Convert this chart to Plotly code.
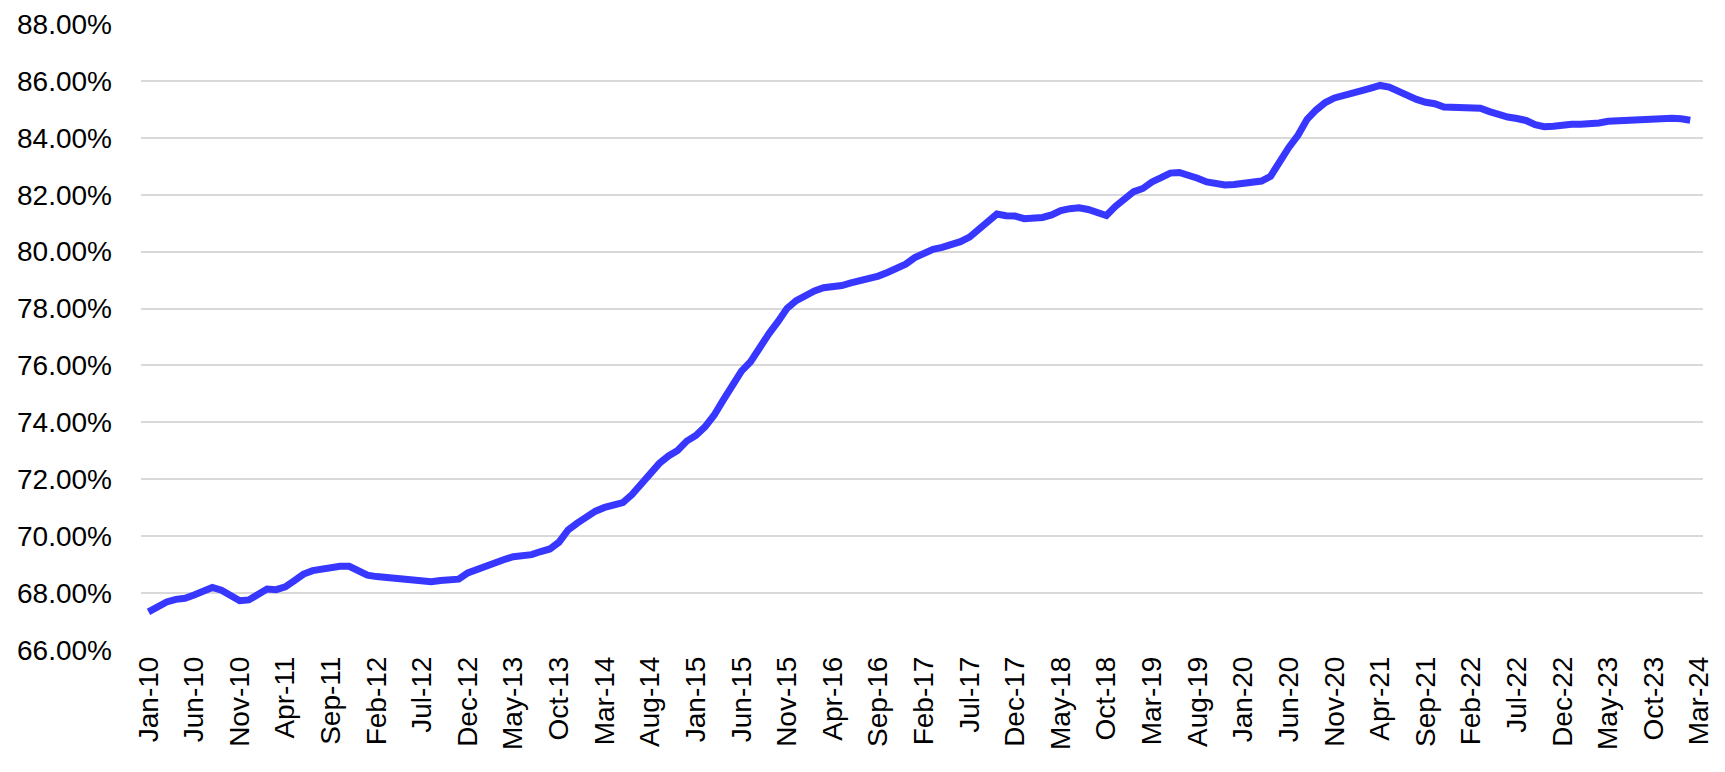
import plotly.graph_objects as go

# Monthly values (percent), Jan-10 .. Feb-24; Mar-24 is on the axis with no value
v2010 = [67.34, 67.52, 67.69, 67.78, 67.82, 67.93, 68.10, 68.20, 68.10, 67.90, 67.73, 67.76]
v2011 = [67.93, 68.14, 68.12, 68.22, 68.44, 68.67, 68.79, 68.85, 68.90, 68.94, 68.94, 68.79]
v2012 = [68.63, 68.58, 68.54, 68.53, 68.48, 68.44, 68.41, 68.40, 68.44, 68.47, 68.49, 68.71]
v2013 = [68.84, 68.93, 69.04, 69.18, 69.28, 69.32, 69.35, 69.46, 69.55, 69.79, 70.22, 70.46]
v2014 = [70.70, 70.88, 71.01, 71.07, 71.18, 71.46, 71.84, 72.21, 72.56, 72.82, 73.01, 73.34]
v2015 = [73.54, 73.84, 74.25, 74.78, 75.31, 75.80, 76.13, 76.64, 77.11, 77.54, 78.01, 78.28]
v2016 = [78.47, 78.62, 78.73, 78.76, 78.81, 78.90, 78.98, 79.02, 79.14, 79.27, 79.41, 79.56]
v2017 = [79.79, 79.94, 80.08, 80.15, 80.22, 80.35, 80.51, 80.79, 81.12, 81.32, 81.26, 81.25]
v2018 = [81.16, 81.15, 81.20, 81.29, 81.44, 81.51, 81.54, 81.48, 81.39, 81.27, 81.59, 81.85]
v2019 = [82.11, 82.22, 82.45, 82.60, 82.76, 82.78, 82.71, 82.58, 82.45, 82.38, 82.34, 82.36]
v2020 = [82.40, 82.46, 82.48, 82.65, 83.19, 83.66, 84.09, 84.65, 84.98, 85.24, 85.40, 85.47]
v2021 = [85.54, 85.66, 85.75, 85.84, 85.78, 85.62, 85.49, 85.35, 85.25, 85.20, 85.08, 85.06]
v2022 = [85.08, 85.07, 85.04, 84.92, 84.80, 84.73, 84.68, 84.61, 84.46, 84.39, 84.41, 84.47]
v2023 = [84.48, 84.48, 84.48, 84.52, 84.58, 84.60, 84.61, 84.64, 84.66, 84.67, 84.69, 84.69]
v2024 = [84.67, 84.62, None]

values = (v2010 + v2011 + v2012 + v2013 + v2014 + v2015 + v2016 + v2017 +
          v2018 + v2019 + v2020 + v2021 + v2022 + v2023 + v2024)

month_names = ["Jan", "Feb", "Mar", "Apr", "May", "Jun",
               "Jul", "Aug", "Sep", "Oct", "Nov", "Dec"]
years = list(range(2010, 2025))
categories = [f"{m}-{str(y)[2:]}" for y in years for m in month_names][:len(values)]

tick_labels = ["Jan-10", "Jun-10", "Nov-10", "Apr-11", "Sep-11", "Feb-12", "Jul-12",
               "Dec-12", "May-13", "Oct-13", "Mar-14", "Aug-14", "Jan-15", "Jun-15",
               "Nov-15", "Apr-16", "Sep-16", "Feb-17", "Jul-17", "Dec-17", "May-18",
               "Oct-18", "Mar-19", "Aug-19", "Jan-20", "Jun-20", "Nov-20", "Apr-21",
               "Sep-21", "Feb-22", "Jul-22", "Dec-22", "May-23", "Oct-23", "Mar-24"]
y_ticks = [66, 68, 70, 72, 74, 76, 78, 80, 82, 84, 86, 88]
y_tick_text = [f"{t:.2f}%" for t in y_ticks]

fig = go.Figure()
fig.add_trace(go.Scatter(
    x=categories, y=values, mode="lines",
    line=dict(color="#3737FF", width=7),
    connectgaps=False, showlegend=False,
))

fig.update_layout(
    width=1717, height=764,
    margin=dict(l=133, r=22, t=16, b=122, autoexpand=False),
    paper_bgcolor="white", plot_bgcolor="white",
    font=dict(family="Liberation Sans, Arial, sans-serif", color="black"),
)
fig.update_xaxes(
    type="category", categoryorder="array", categoryarray=categories,
    range=[-0.82, 170.4],
    tickmode="array", tickvals=tick_labels, ticktext=tick_labels,
    tickangle=-90, tickfont=dict(size=28, color="black"),
    showgrid=False, zeroline=False, showline=False, ticks="",
    ticklabelstandoff=0, automargin=False,
)
fig.update_yaxes(
    range=[66, 88], tickmode="array", tickvals=y_ticks, ticktext=y_tick_text,
    tickfont=dict(size=28, color="black"),
    showgrid=True, gridcolor="#D9D9D9", gridwidth=1.5,
    zeroline=False, showline=False, ticks="",
    ticklabelstandoff=28, automargin=False,
)

fig.write_html("out.html")
